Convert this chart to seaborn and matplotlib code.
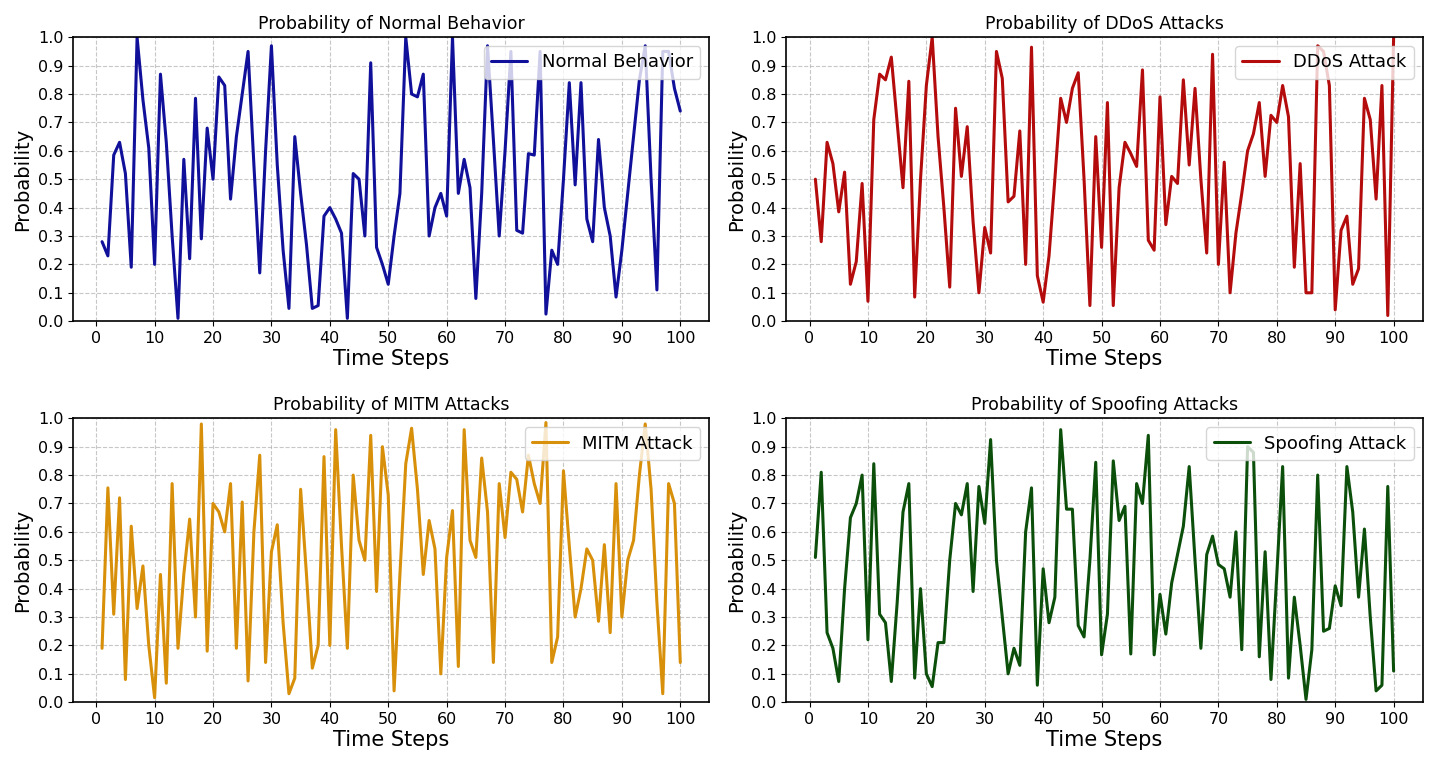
import numpy as np
import pandas as pd
import seaborn as sns
import matplotlib.pyplot as plt

# valores (passos 1..100)
steps = list(range(1, 101))

normal = [0.28, 0.23, 0.585, 0.63, 0.52, 0.19, 1.0, 0.78, 0.61, 0.20,
          0.87, 0.63, 0.30, 0.01, 0.57, 0.22, 0.785, 0.29, 0.68, 0.50,
          0.86, 0.83, 0.43, 0.65, 0.80, 0.95, 0.55, 0.17, 0.60, 0.97,
          0.55, 0.25, 0.045, 0.65, 0.45, 0.27, 0.045, 0.055, 0.37, 0.40,
          0.36, 0.31, 0.01, 0.52, 0.50, 0.30, 0.91, 0.26, 0.20, 0.13,
          0.30, 0.45, 1.0, 0.80, 0.79, 0.87, 0.30, 0.40, 0.45, 0.37,
          1.0, 0.45, 0.57, 0.47, 0.08, 0.45, 0.97, 0.64, 0.30, 0.60,
          0.95, 0.32, 0.31, 0.59, 0.585, 0.95, 0.025, 0.25, 0.20, 0.50,
          0.84, 0.48, 0.84, 0.36, 0.28, 0.64, 0.40, 0.30, 0.085, 0.25,
          0.45, 0.65, 0.85, 0.97, 0.50, 0.11, 0.95, 0.95, 0.82, 0.74]

ddos = [0.50, 0.28, 0.63, 0.555, 0.385, 0.525, 0.13, 0.21, 0.485, 0.07,
        0.71, 0.87, 0.85, 0.93, 0.70, 0.47, 0.845, 0.085, 0.50, 0.83,
        1.0, 0.65, 0.40, 0.12, 0.75, 0.51, 0.685, 0.35, 0.10, 0.33,
        0.24, 0.95, 0.855, 0.42, 0.44, 0.67, 0.20, 0.965, 0.16, 0.067,
        0.23, 0.50, 0.785, 0.70, 0.82, 0.875, 0.50, 0.055, 0.65, 0.26,
        0.77, 0.055, 0.47, 0.63, 0.59, 0.545, 0.885, 0.285, 0.25, 0.79,
        0.34, 0.51, 0.485, 0.85, 0.55, 0.82, 0.50, 0.24, 0.94, 0.20,
        0.56, 0.10, 0.31, 0.45, 0.60, 0.66, 0.77, 0.51, 0.725, 0.70,
        0.83, 0.72, 0.19, 0.555, 0.10, 0.10, 0.97, 0.95, 0.83, 0.04,
        0.32, 0.37, 0.13, 0.185, 0.785, 0.71, 0.43, 0.83, 0.02, 1.0]

mitm = [0.19, 0.755, 0.31, 0.72, 0.08, 0.62, 0.33, 0.48, 0.20, 0.016,
        0.45, 0.067, 0.77, 0.19, 0.45, 0.645, 0.30, 0.98, 0.18, 0.70,
        0.67, 0.60, 0.77, 0.19, 0.705, 0.075, 0.60, 0.87, 0.14, 0.53,
        0.625, 0.28, 0.03, 0.085, 0.75, 0.45, 0.12, 0.20, 0.865, 0.20,
        0.96, 0.55, 0.19, 0.80, 0.57, 0.50, 0.94, 0.39, 0.90, 0.73,
        0.04, 0.45, 0.84, 0.965, 0.75, 0.45, 0.64, 0.54, 0.10, 0.51,
        0.675, 0.126, 0.96, 0.57, 0.51, 0.86, 0.67, 0.14, 0.77, 0.58,
        0.81, 0.785, 0.67, 0.87, 0.77, 0.70, 0.985, 0.14, 0.23, 0.815,
        0.55, 0.30, 0.40, 0.54, 0.50, 0.285, 0.555, 0.245, 0.77, 0.30,
        0.50, 0.57, 0.80, 0.98, 0.75, 0.35, 0.03, 0.77, 0.70, 0.14]

spoofing = [0.51, 0.81, 0.245, 0.19, 0.073, 0.40, 0.65, 0.70, 0.80, 0.22,
            0.84, 0.31, 0.28, 0.073, 0.35, 0.67, 0.77, 0.085, 0.40, 0.10,
            0.055, 0.21, 0.21, 0.50, 0.70, 0.66, 0.77, 0.39, 0.76, 0.63,
            0.925, 0.50, 0.30, 0.10, 0.19, 0.13, 0.60, 0.755, 0.06, 0.47,
            0.28, 0.37, 0.96, 0.68, 0.68, 0.27, 0.23, 0.50, 0.845, 0.167,
            0.31, 0.85, 0.64, 0.69, 0.17, 0.77, 0.70, 0.94, 0.167, 0.38,
            0.24, 0.42, 0.52, 0.62, 0.83, 0.50, 0.19, 0.52, 0.585, 0.485,
            0.47, 0.37, 0.60, 0.185, 0.90, 0.88, 0.16, 0.53, 0.08, 0.45,
            0.83, 0.085, 0.37, 0.20, 0.01, 0.185, 0.80, 0.25, 0.26, 0.41,
            0.34, 0.83, 0.67, 0.37, 0.61, 0.30, 0.04, 0.06, 0.76, 0.11]

titles = ["Probability of Normal Behavior", "Probability of DDoS Attacks",
          "Probability of MITM Attacks", "Probability of Spoofing Attacks"]
labels = ["Normal Behavior", "DDoS Attack", "MITM Attack", "Spoofing Attack"]
cores = ["#10109a", "#b40c0c", "#d8900a", "#0b4f0b"]
series = [normal, ddos, mitm, spoofing]

sns.set_style("ticks")
plt.rcParams['font.family'] = ['DejaVu Sans']
plt.rcParams['text.color'] = 'black'
plt.rcParams['axes.labelcolor'] = 'black'
plt.rcParams['xtick.color'] = 'black'
plt.rcParams['ytick.color'] = 'black'

fig, axes = plt.subplots(2, 2, figsize=(14.34, 7.6), dpi=100)
fig.subplots_adjust(left=0.051, right=0.992, top=0.951, bottom=0.076,
                    wspace=0.1215, hspace=0.342)

for ax, vals, tit, lab, cor in zip(axes.flat, series, titles, labels, cores):
    df = pd.DataFrame({"step": steps, "prob": vals})
    sns.lineplot(data=df, x="step", y="prob", ax=ax, color=cor,
                 linewidth=2.2, label=lab)
    ax.set_ylim(0, 1)
    ax.set_yticks(np.arange(0, 1.01, 0.1))
    ax.set_xticks(range(0, 101, 10))
    ax.grid(True, linestyle="--", color="#b0b0b0", alpha=0.7)
    ax.set_title(tit, fontsize=12.5)
    ax.set_xlabel("Time Steps", fontsize=15, labelpad=2)
    ax.set_ylabel("Probability", fontsize=14, labelpad=4)
    ax.tick_params(labelsize=11.5)
    for s in ax.spines.values():
        s.set_color("black")
        s.set_linewidth(1.2)
    ax.legend(loc="upper right", fontsize=13)

plt.savefig("out.png", dpi=100)
